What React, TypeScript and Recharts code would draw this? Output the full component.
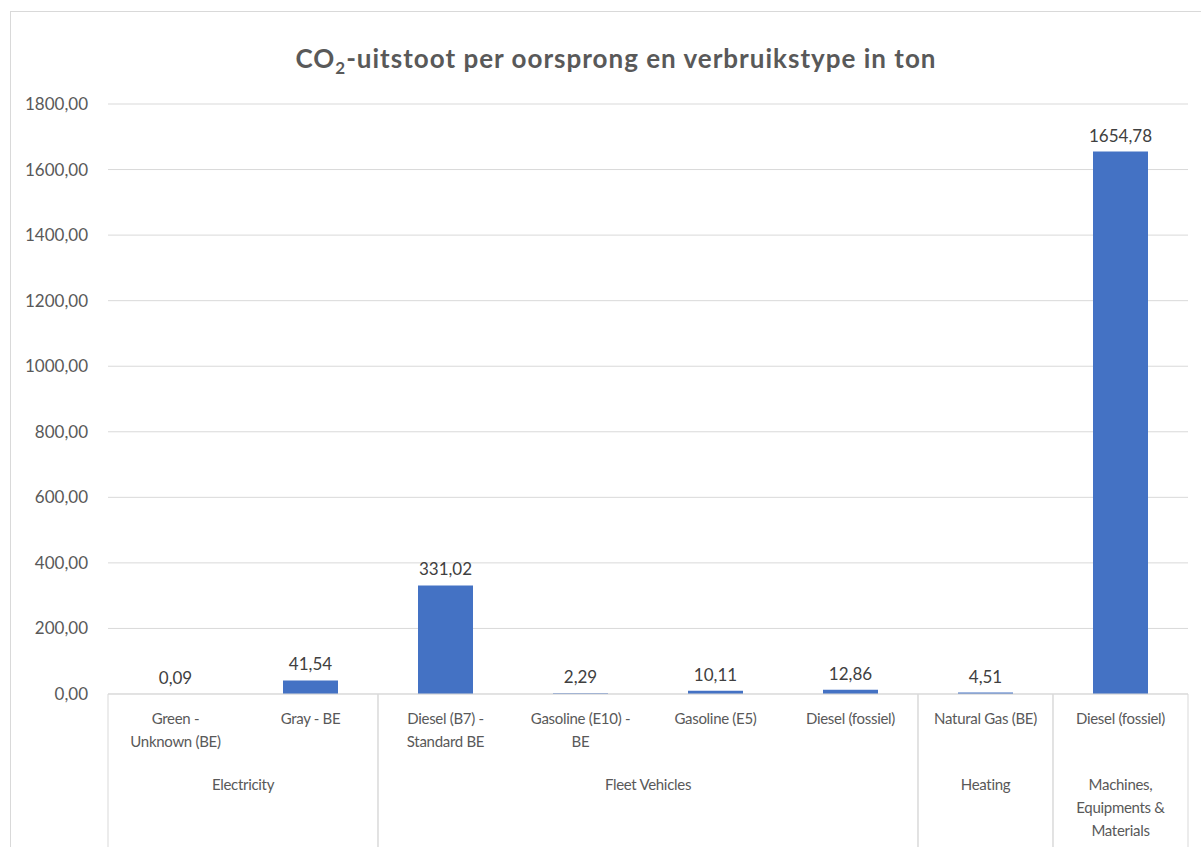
import { BarChart, Bar, XAxis, YAxis, CartesianGrid, LabelList } from 'recharts';

// sub-category (line breaks marked with \n) and the group each bar belongs to
const subCategories = [
  'Green -\nUnknown (BE)',
  'Gray - BE',
  'Diesel (B7) -\nStandard BE',
  'Gasoline (E10) -\nBE',
  'Gasoline (E5)',
  'Diesel (fossiel)',
  'Natural Gas (BE)',
  'Diesel (fossiel)',
];
const groupOf = [
  'Electricity',
  'Electricity',
  'Fleet Vehicles',
  'Fleet Vehicles',
  'Fleet Vehicles',
  'Fleet Vehicles',
  'Heating',
  'Machines,\nEquipments &\nMaterials',
];
const emissions = [0.09, 41.54, 331.02, 2.29, 10.11, 12.86, 4.51, 1654.78];
const yTicks = [0, 200, 400, 600, 800, 1000, 1200, 1400, 1600, 1800];

const data = emissions.map((value, i) => ({ id: `c${i}`, value }));

const CHART_W = 1190;
const CHART_H = 835;
const MARGIN = { top: 92, right: 13, bottom: 0, left: 0 };
const Y_AXIS_W = 97;
const X_AXIS_H = 153;
const BAND = (CHART_W - MARGIN.left - MARGIN.right - Y_AXIS_W) / emissions.length;

const FONT = 'Lato, "Open Sans", sans-serif';
const TEXT = '#595959';
const LINE = '#d9d9d9';

const fmt = (v: number) => v.toFixed(2).replace('.', ',');

function CategoryTick(props: any) {
  const { x, y, index } = props;
  const lines = subCategories[index].split('\n');
  const group = groupOf[index];
  const isFirst = index === 0 || groupOf[index - 1] !== group;
  const isLast = index === groupOf.length - 1 || groupOf[index + 1] !== group;
  let size = 0;
  while (groupOf[index + size] === group) size++;
  const groupX = x + ((size - 1) * BAND) / 2;
  const textProps = {
    textAnchor: 'middle' as const,
    fill: TEXT,
    fontSize: 15,
    fontFamily: FONT,
    letterSpacing: -0.3,
  };
  return (
    <g>
      {lines.map((l, i) => (
        <text key={i} x={x} y={y + 30 + i * 23} {...textProps}>
          {l}
        </text>
      ))}
      {isFirst && (
        <>
          <line x1={x - BAND / 2} x2={x - BAND / 2} y1={y} y2={y + X_AXIS_H} stroke={LINE} />
          {group.split('\n').map((l, i) => (
            <text key={i} x={groupX} y={y + 96 + i * 23} {...textProps}>
              {l}
            </text>
          ))}
        </>
      )}
      {isLast && <line x1={x + BAND / 2} x2={x + BAND / 2} y1={y} y2={y + X_AXIS_H} stroke={LINE} />}
    </g>
  );
}

export default function App() {
  return (
    <div
      style={{
        position: 'absolute',
        left: 10,
        top: 11,
        width: CHART_W,
        height: CHART_H,
        borderTop: `1px solid ${LINE}`,
        borderLeft: `1px solid ${LINE}`,
        background: '#fff',
      }}
    >
      <BarChart width={CHART_W} height={CHART_H} data={data} margin={MARGIN}>
        <text
          x={CHART_W / 2 + 10}
          y={56}
          textAnchor="middle"
          fill={TEXT}
          fontSize={26}
          fontWeight="bold"
          letterSpacing={1}
          fontFamily={FONT}
        >
          CO
          <tspan fontSize={17} dy={6}>2</tspan>
          <tspan dy={-6}>-uitstoot per oorsprong en verbruikstype in ton</tspan>
        </text>
        <CartesianGrid vertical={false} stroke={LINE} />
        <XAxis
          dataKey="id"
          interval={0}
          height={X_AXIS_H}
          tickLine={false}
          tickSize={0}
          tickMargin={0}
          axisLine={{ stroke: LINE }}
          tick={<CategoryTick />}
        />
        <YAxis
          width={Y_AXIS_W}
          domain={[0, 1800]}
          ticks={yTicks}
          tickFormatter={fmt}
          axisLine={false}
          tickLine={false}
          tickSize={10}
          tickMargin={10}
          tick={{ fill: TEXT, fontSize: 17, fontFamily: FONT }}
        />
        <Bar dataKey="value" fill="#4472C4" barSize={55} isAnimationActive={false}>
          <LabelList
            dataKey="value"
            position="top"
            offset={10}
            formatter={(v: any) => fmt(Number(v))}
            fill="#404040"
            fontSize={17}
            fontFamily={FONT}
          />
        </Bar>
      </BarChart>
    </div>
  );
}
